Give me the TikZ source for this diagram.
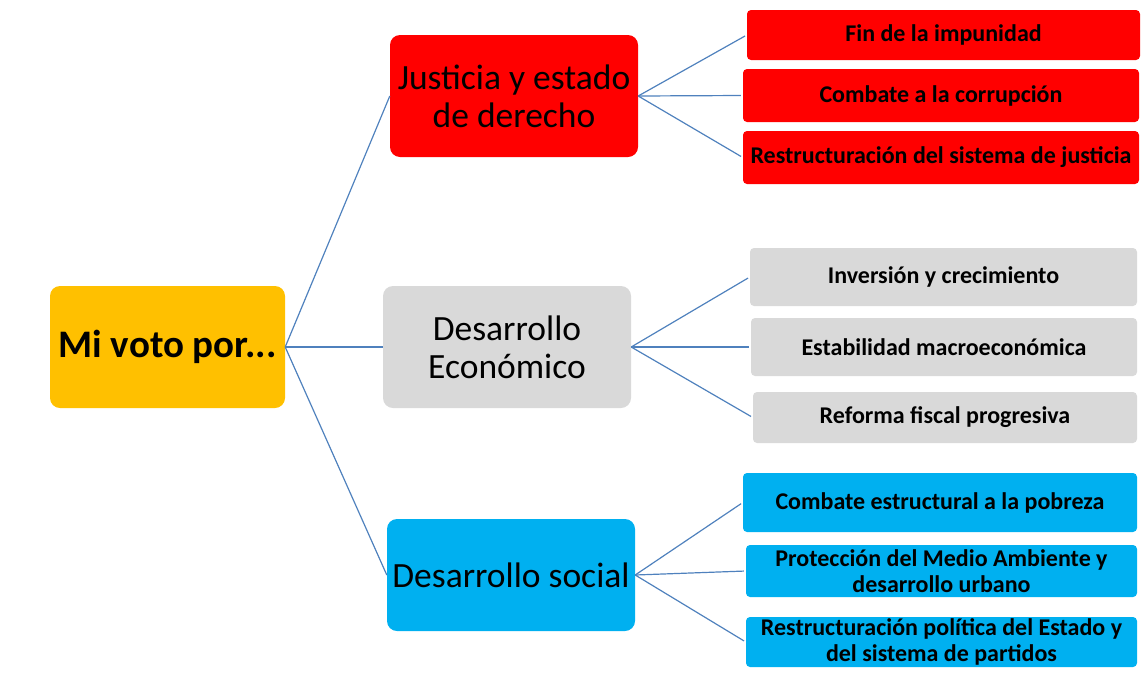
\documentclass[tikz,border=0pt]{standalone}
\usepackage{fontspec}
\setmainfont{Carlito}
\definecolor{cRoot}{HTML}{FFC000}
\definecolor{cRed}{HTML}{FF0000}
\definecolor{cGray}{HTML}{D9D9D9}
\definecolor{cBlue}{HTML}{00B0F0}
\definecolor{cLine}{HTML}{4F81BD}
\begin{document}
\begin{tikzpicture}[x=1pt,y=-1pt,
  box/.style={draw=none,rounded corners=10pt,inner sep=0pt,align=center,text=black},
  rootbox/.style={box,fill=cRoot,minimum width=235pt,minimum height=122pt,font=\fontsize{39}{46}\selectfont\bfseries},
  mainbox/.style={box,minimum width=248pt,minimum height=122pt,font=\fontsize{35.5}{38}\selectfont},
  leaf/.style={box,rounded corners=4pt,minimum width=395pt,minimum height=53pt,font=\fontsize{24}{26.5}\selectfont\bfseries},
  conn/.style={draw=cLine,line width=1.2pt}]
\useasboundingbox (0,0) rectangle (1148,678);
\node[rootbox] (root) at (167.5,347) {Mi voto por...};
\node[mainbox,fill=cRed] (jus) at (514,96) {Justicia y estado\\de derecho};
\node[mainbox,fill=cGray] (eco) at (507,347) {Desarrollo\\Económico};
\node[mainbox,fill=cBlue,minimum height=112pt] (soc) at (511,575) {Desarrollo social};
\node[leaf,fill=cRed,minimum width=393pt,minimum height=50pt] (j1) at (943.5,35) {Fin de la impunidad};
\node[leaf,fill=cRed,minimum width=396pt] (j2) at (941,95.5) {Combate a la corrupción};
\node[leaf,fill=cRed,minimum width=396pt] (j3) at (941,157.5) {Restructuración del sistema de justicia};
\node[leaf,fill=cGray,minimum width=387pt,minimum height=58pt] (e1) at (943.5,277) {Inversión y crecimiento};
\node[leaf,fill=cGray,minimum width=386pt,minimum height=58pt] (e2) at (944,347) {Estabilidad macroeconómica};
\node[leaf,fill=cGray,minimum width=384pt,minimum height=51pt] (e3) at (945,417.5) {Reforma fiscal progresiva};
\node[leaf,fill=cBlue,minimum width=394pt,minimum height=59pt] (s1) at (940,502.5) {Combate estructural a la pobreza};
\node[leaf,fill=cBlue,minimum width=391pt,minimum height=52pt] (s2) at (941.5,571) {Protección del Medio Ambiente y\\desarrollo urbano};
\node[leaf,fill=cBlue,minimum width=391pt,minimum height=50pt] (s3) at (941.5,642) {Restructuración política del Estado y\\del sistema de partidos};
\foreach \c in {jus,eco,soc} \draw[conn] (root.east) -- (\c.west);
\foreach \c in {j1,j2,j3} \draw[conn,shorten >=2pt] (jus.east) -- (\c.west);
\foreach \c in {e1,e2,e3} \draw[conn,shorten >=2pt] (eco.east) -- (\c.west);
\foreach \c in {s1,s2,s3} \draw[conn,shorten >=2pt] (soc.east) -- (\c.west);
\end{tikzpicture}
\end{document}
